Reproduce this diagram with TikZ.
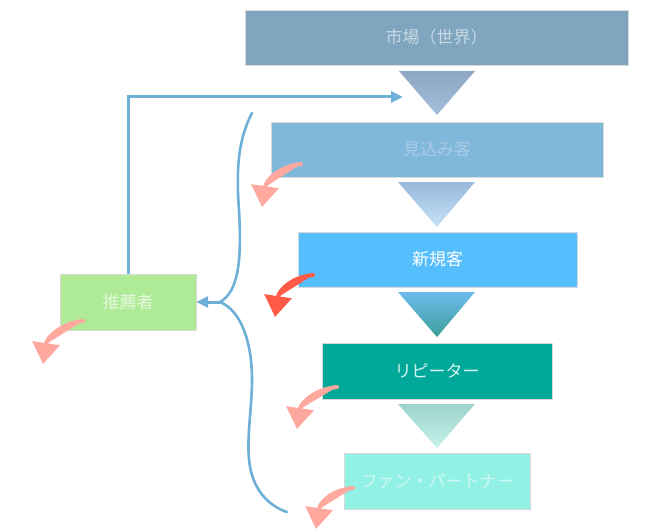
\documentclass[tikz,border=0pt]{standalone}
\usepackage{fontspec}
\newfontfamily\jp{Noto Sans CJK JP}
\usetikzlibrary{arrows.meta}
\definecolor{cMarket}{HTML}{7FA5BF}
\definecolor{tMarket}{HTML}{C8D8E4}
\definecolor{cProsp}{HTML}{80B8DB}
\definecolor{tProsp}{HTML}{AACCE4}
\definecolor{cNew}{HTML}{55BEFD}
\definecolor{cRep}{HTML}{00A899}
\definecolor{tRep}{HTML}{D5F2EE}
\definecolor{cFan}{HTML}{91F1E5}
\definecolor{tFan}{HTML}{CFF8F2}
\definecolor{cRec}{HTML}{AFEB97}
\definecolor{tRec}{HTML}{E6F8DF}
\definecolor{cLine}{HTML}{6FB0D8}
\definecolor{cPink}{HTML}{FFA89E}
\definecolor{cRed}{HTML}{FF5A48}
\definecolor{ga1}{HTML}{8EA6C2}\definecolor{ga2}{HTML}{A2BFDD}
\definecolor{gb1}{HTML}{98B8DC}\definecolor{gb2}{HTML}{C6E2F8}
\definecolor{gc1}{HTML}{6CBAEC}\definecolor{gc2}{HTML}{3E9E9A}
\definecolor{gd1}{HTML}{9ED2CA}\definecolor{gd2}{HTML}{C4F4EC}
\tikzset{
  stage/.style={draw=white!85!black, line width=0.4pt, inner sep=0pt, font=\jp\fontsize{17}{20}\selectfont},
  flowline/.style={draw=cLine, line width=3pt},
  leak/.style={line width=4pt, line cap=round, -{Triangle[width=27pt,length=21pt]}},
}
\begin{document}
\begin{tikzpicture}[x=1pt,y=-1pt]
\useasboundingbox (0,0) rectangle (648,532);
\fill[white] (0,0) rectangle (648,532);
% boxes
\node[stage, fill=cMarket, text=tMarket, minimum width=383pt, minimum height=55pt] (market) at (436.5,37.5) {市場（世界）};
\node[stage, fill=cProsp, text=tProsp, minimum width=332pt, minimum height=55pt] (prosp) at (437,149.5) {見込み客};
\node[stage, fill=cNew, text=white, minimum width=279pt, minimum height=55pt] (newc) at (437.5,259.5) {新規客};
\node[stage, fill=cRep, text=tRep, minimum width=230pt, minimum height=56pt] (rep) at (437,371) {リピーター};
\node[stage, fill=cFan, text=tFan, minimum width=186pt, minimum height=56pt] (fan) at (437,481) {ファン・パートナー};
\node[stage, fill=cRec, text=tRec, minimum width=136pt, minimum height=56pt] (rec) at (128,302) {推薦者};
% triangles
\shade[top color=ga1, bottom color=ga2] (399,71) -- (475,71) -- (437,115) -- cycle;
\shade[top color=gb1, bottom color=gb2] (398,182) -- (475,182) -- (437,227) -- cycle;
\shade[top color=gc1, bottom color=gc2] (398,292) -- (475,292) -- (437,337) -- cycle;
\shade[top color=gd1, bottom color=gd2] (398,404) -- (475,404) -- (437,448) -- cycle;
% referral loop
\coordinate (toMarket) at (403,97);
\draw[flowline, -{Triangle[width=11pt,length=12pt]}] (rec.north) |- (toMarket);
% brace
\coordinate (btop) at (252,113);
\coordinate (btip) at (220,302);
\coordinate (bbot) at (287,512);
\draw[flowline, line width=2.6pt, line cap=round] (btop) .. controls (238,140) and (236,170) .. (239,210)
  .. controls (242,262) and (238,292) .. (btip)
  .. controls (240,310) and (252,340) .. (252,380)
  .. controls (252,412) and (244,450) .. (252,475)
  .. controls (258,495) and (272,507) .. (bbot);
\draw[flowline, -{Triangle[width=11pt,length=12pt]}] (btip) -- (rec.east);
% leak arrows
\coordinate (l1s) at (301,164); \coordinate (l1e) at (262,207);
\coordinate (l2s) at (313,275); \coordinate (l2e) at (275,317);
\coordinate (l3s) at (337,387); \coordinate (l3e) at (297,429);
\coordinate (l4s) at (353,488); \coordinate (l4e) at (316,529);
\coordinate (l5s) at (83,321);  \coordinate (l5e) at (43,364);
\draw[leak, draw=cPink, fill=cPink] (l1s) .. controls (280,166) and (266,180) .. (l1e);
\draw[leak, draw=cRed, fill=cRed] (l2s) .. controls (292,277) and (279,290) .. (l2e);
\draw[leak, draw=cPink, fill=cPink] (l3s) .. controls (316,389) and (301,402) .. (l3e);
\draw[leak, draw=cPink, fill=cPink] (l4s) .. controls (332,490) and (320,502) .. (l4e);
\draw[leak, draw=cPink, fill=cPink] (l5s) .. controls (62,323) and (47,337) .. (l5e);
\end{tikzpicture}
\end{document}
